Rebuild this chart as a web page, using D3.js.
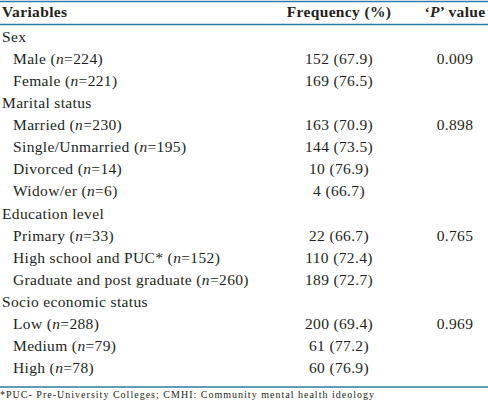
<!DOCTYPE html>
<html><head><meta charset="utf-8">
<script src="https://cdn.jsdelivr.net/npm/d3@7"></script>
<style>
html,body{margin:0;padding:0;background:#fff;}
svg text{font-family:"Liberation Serif","DejaVu Serif",serif;fill:#231f20;}
</style></head>
<body><div id="chart"></div>
<script>
const headers = ["Variables", "Frequency (%)", "value"];
const groups = ["Sex", "Marital status", "Education level", "Socio economic status"];
const groupPValues = ["0.009", "0.898", "0.765", "0.969"];
const itemGroup = [0, 0, 1, 1, 1, 1, 2, 2, 2, 3, 3, 3];
const itemLabels = ["Male", "Female", "Married", "Single/Unmarried", "Divorced", "Widow/er", "Primary", "High school and PUC*", "Graduate and post graduate", "Low", "Medium", "High"];
const itemN = [224, 221, 230, 195, 14, 6, 33, 152, 260, 288, 79, 78];
const itemFreq = [152, 169, 163, 144, 10, 4, 22, 110, 189, 200, 61, 60];
const itemPct = ["67.9", "76.5", "70.9", "73.5", "76.9", "66.7", "66.7", "72.4", "72.7", "69.4", "77.2", "76.9"];
const footnote = "*PUC- Pre-University Colleges; CMHI: Community mental health ideology";

const W = 488, H = 402;
const svg = d3.select("#chart").append("svg").attr("width", W).attr("height", H);

const rows = [];
groups.forEach((g, gi) => {
  rows.push({type: "group", label: g, p: null});
  let first = true;
  itemGroup.forEach((ig, i) => {
    if (ig === gi) {
      rows.push({type: "item", label: itemLabels[i], n: itemN[i], freq: itemFreq[i], pct: itemPct[i], p: first ? groupPValues[gi] : null});
      first = false;
    }
  });
});
const y = d3.scalePoint().domain(d3.range(rows.length)).range([42, 373]);
const lineColor = "#2f7aa6";
const fs = 15.5;
const ls = 0.35;
const xFreq = 339, xP = 455;

[1.5, 24.5, 387].forEach(yy => {
  svg.append("line").attr("x1", 0).attr("x2", W).attr("y1", yy).attr("y2", yy)
    .attr("stroke", lineColor).attr("stroke-width", 1.6);
});

function txt(x, yy, anchor) {
  return svg.append("text").attr("x", x).attr("y", yy).attr("font-size", fs)
    .attr("letter-spacing", ls).attr("text-anchor", anchor || "start");
}

txt(2, 17).attr("font-weight", "bold").text(headers[0]);
txt(xFreq, 17, "middle").attr("font-weight", "bold").text(headers[1]);
const ph = txt(xP, 17, "middle").attr("font-weight", "bold");
ph.append("tspan").text("\u2018");
ph.append("tspan").attr("font-style", "italic").text("P");
ph.append("tspan").text("\u2019 " + headers[2]);

rows.forEach((r, i) => {
  const yy = y(i);
  if (r.type === "group") {
    txt(2, yy).text(r.label);
  } else {
    const t = txt(13, yy);
    t.append("tspan").text(r.label + " (");
    t.append("tspan").attr("font-style", "italic").text("n");
    t.append("tspan").text("=" + r.n + ")");
    txt(xFreq, yy, "middle").text(r.freq + " (" + r.pct + ")");
    if (r.p) txt(xP, yy, "middle").text(r.p);
  }
});

svg.append("text").attr("x", 0).attr("y", 398).attr("font-size", 10)
  .attr("textLength", 374).attr("lengthAdjust", "spacing").text(footnote);
</script></body></html>
